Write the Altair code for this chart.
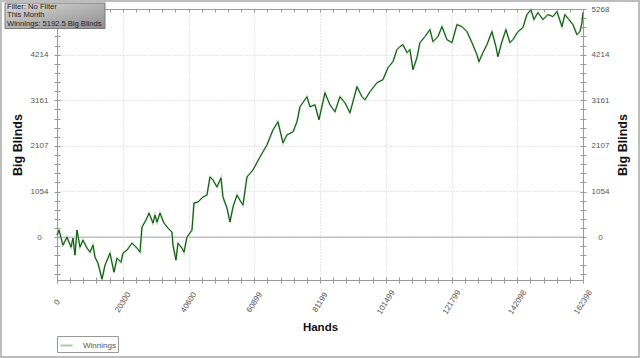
import altair as alt
import pandas as pd

# ---- data ----
hands = [0, 617, 1852, 3087, 4322, 4939, 5557, 6174, 7100, 8026,
         9261, 10187, 11113, 11731, 12657, 13892, 14818, 16361, 17596, 18522,
         19757, 20374, 21609, 23153, 24696, 25622, 26240, 27474, 28400, 29635,
         30252, 30870, 31796, 33031, 34265, 35500, 35809, 36735, 37352, 38587,
         39205, 40131, 41674, 42292, 43526, 45070, 46305, 47231, 48157, 49392,
         50626, 51244, 52479, 53405, 54331, 55566, 56800, 57418, 58653, 60505,
         62666, 64827, 66679, 68222, 69766, 71001, 72853, 74088, 75014, 77174,
         78100, 79644, 80879, 82731, 84274, 85818, 87361, 88905, 90448, 92609,
         94152, 95078, 96622, 98783, 100635, 102178, 103722, 104957, 105883, 106809,
         108044, 108970, 109896, 111131, 112057, 113600, 115144, 116070, 117613, 118848,
         120391, 121935, 123478, 125022, 126565, 128109, 129652, 130270, 131505, 132739,
         134283, 135518, 136135, 137370, 138605, 139840, 140766, 142309, 143853, 145087,
         146322, 147248, 148483, 150026, 151570, 153113, 154348, 155891, 156817, 158052,
         159287, 160522, 161448, 162089, 162398]
big_blinds = [45, 162, -185, 0, -231, -23, -417, 162, -231, -69,
              -255, -347, -185, -463, -602, -972, -648, -370, -810, -486,
              -579, -370, -301, -139, -255, -347, 231, 394, 556, 324,
              509, 347, 556, 324, 208, 116, -185, -532, -139, -255,
              -347, 0, 162, 787, 810, 926, 972, 1389, 1320, 1158,
              1366, 926, 671, 347, 695, 972, 810, 741, 1389, 1551,
              1852, 2130, 2477, 2662, 2176, 2361, 2431, 2662, 3010, 3241,
              3010, 3056, 2709, 3334, 3056, 2894, 3241, 3102, 2871, 3473,
              3241, 3172, 3357, 3565, 3635, 3912, 4051, 4329, 4399, 4445,
              4260, 4329, 3866, 4144, 4491, 4630, 4792, 4514, 4630, 4862,
              4561, 4491, 4908, 4862, 4746, 4491, 4213, 4051, 4260, 4445,
              4746, 4399, 4167, 4514, 4792, 4491, 4561, 4746, 4839, 5139,
              5255, 5024, 5186, 5024, 5139, 5093, 5209, 4862, 5139, 5024,
              4908, 4676, 4746, 4950, 5192]
series_name = "Winnings"

x_ticks = [0, 20300, 40600, 60899, 81199, 101499, 121799, 142098, 162398]
y_ticks = [0, 1054, 2107, 3161, 4214, 5268]
y_ticks_left = [0, 1054, 2107, 3161, 4214]   # top label is hidden by the info box
x_max = 162398
y_min = -990
y_max = 5268
info_lines = ["Filter: No Filter", "This Month", "Winnings: 5192.5 Big Blinds"]

# minor tick positions (5 subdivisions per major step)
x_step = x_max / 8 / 5
y_step = y_max / 5 / 5
x_minor = [i * x_step for i in range(0, 41)]
y_minor = [i * y_step for i in range(-4, 26) if y_min <= i * y_step <= y_max]

W, H = 526, 271
FONT = "Liberation Sans"
AX = "#9a9a9a"
HALO = "#a6cfa6"
CORE = "#0a520a"

df = pd.DataFrame({"Hands": hands, "BB": big_blinds, "Series": series_name})
one = pd.DataFrame({"a": [0]})
zero_df = pd.DataFrame({"BB": [0]})

xs = alt.Scale(domain=[0, x_max], nice=False, zero=False)
ys = alt.Scale(domain=[y_min, y_max], nice=False, zero=False)

base = alt.Chart(df)

# main line (halo) with the labelled bottom and left axes
halo = base.mark_line(strokeWidth=2.0).encode(
    x=alt.X("Hands:Q", scale=xs, axis=alt.Axis(
        orient="bottom", values=x_ticks, format="d", title="Hands",
        grid=True, gridColor="#cfcfcf", gridDash=[1, 2], ticks=False,
        domainColor=AX, labelAngle=302, labelAlign="center", labelBaseline="middle",
        labelPadding=22, labelFontSize=8, labelFont=FONT, labelColor="#555",
        titleFont=FONT, titleFontSize=11.5, titleFontWeight="bold", titleColor="#111",
        titleX=W / 2, titleY=47, titleBaseline="middle")),
    y=alt.Y("BB:Q", scale=ys, axis=alt.Axis(
        orient="left", values=y_ticks_left, format="d", title="Big Blinds",
        grid=True, gridColor="#cfcfcf", gridDash=[1, 2], ticks=False,
        domainColor=AX, labelAlign="center", labelBaseline="middle",
        labelPadding=18, labelFontSize=8, labelFont=FONT, labelColor="#555",
        titleFont=FONT, titleFontSize=12.5, titleFontWeight="bold", titleColor="#111",
        titleAngle=270, titleX=-40, titleY=H / 2, titleBaseline="middle")),
    color=alt.Color("Series:N", scale=alt.Scale(range=[HALO]), legend=alt.Legend(
        orient="none", legendX=0, legendY=327, title=None, strokeColor="#999",
        fillColor="white", padding=2, symbolType="stroke", symbolStrokeWidth=2,
        symbolSize=150, labelFontSize=8, labelFont=FONT, labelColor="#555",
        labelOffset=9, cornerRadius=0)),
)

core = base.mark_line(strokeWidth=1, color=CORE).encode(
    x=alt.X("Hands:Q", scale=xs, axis=None),
    y=alt.Y("BB:Q", scale=ys, axis=None),
)

# right labelled axis + top frame line
frame = base.mark_line(opacity=0).encode(
    x=alt.X("Hands:Q", scale=xs, axis=alt.Axis(
        orient="top", values=x_ticks, labels=False, ticks=False, grid=False,
        title=None, domainColor=AX)),
    y=alt.Y("BB:Q", scale=ys, axis=alt.Axis(
        orient="right", values=y_ticks, format="d", title="Big Blinds",
        grid=False, ticks=False, domainColor=AX, labelAlign="center",
        labelBaseline="middle", labelPadding=17, labelFontSize=8, labelFont=FONT,
        labelColor="#555", titleFont=FONT, titleFontSize=12.5, titleFontWeight="bold",
        titleColor="#111", titleAngle=270, titleX=39, titleY=H / 2,
        titleBaseline="middle")),
)

# tick marks crossing bottom / left axes
ticks_bl = base.mark_line(opacity=0).encode(
    x=alt.X("Hands:Q", scale=xs, axis=alt.Axis(
        orient="bottom", values=x_minor, labels=False, domain=False, grid=False,
        title=None, tickSize=6, offset=-3, tickColor=AX)),
    y=alt.Y("BB:Q", scale=ys, axis=alt.Axis(
        orient="left", values=y_minor, labels=False, domain=False, grid=False,
        title=None, tickSize=6, offset=-3, tickColor=AX)),
)

# tick marks on top / right axes
ticks_tr = base.mark_line(opacity=0).encode(
    x=alt.X("Hands:Q", scale=xs, axis=alt.Axis(
        orient="top", values=x_minor, labels=False, domain=False, grid=False,
        title=None, tickSize=3, offset=-3, tickColor=AX)),
    y=alt.Y("BB:Q", scale=ys, axis=alt.Axis(
        orient="right", values=y_minor, labels=False, domain=False, grid=False,
        title=None, tickSize=6, offset=-3, tickColor=AX)),
)

zero_rule = alt.Chart(zero_df).mark_rule(color="#a8a8a8", strokeWidth=1).encode(
    y=alt.Y("BB:Q", scale=ys, axis=None)
)

# info box at top-left
info_box = alt.Chart(one).mark_rect(
    fill=alt.Gradient(
        gradient="linear",
        stops=[alt.GradientStop(color="#dadada", offset=0),
               alt.GradientStop(color="#8e8e8e", offset=1)],
        x1=0, x2=1, y1=0, y2=1),
    stroke="#7a7a7a", strokeWidth=1,
).encode(x=alt.value(-52), x2=alt.value(48), y=alt.value(-6), y2=alt.value(19.5))

info_texts = [
    alt.Chart(one).mark_text(
        align="left", baseline="middle", font=FONT, fontSize=7.6, color="#222",
    ).encode(x=alt.value(-50), y=alt.value(-2.3 + 8.4 * i), text=alt.value(line))
    for i, line in enumerate(info_lines)
]

# outer grey frame of the picture
outer = alt.Chart(one).mark_rect(fillOpacity=0, stroke="#bdbdbd", strokeWidth=2).encode(
    x=alt.value(-56), x2=alt.value(582), y=alt.value(-8), y2=alt.value(348)
)

chart = alt.layer(
    zero_rule, halo, core, frame, ticks_bl, ticks_tr, info_box, *info_texts, outer
).resolve_axis(x="independent", y="independent").properties(
    width=W, height=H,
    autosize=alt.AutoSizeParams(type="none"),
    padding={"left": 57, "top": 9, "right": 57, "bottom": 78},
    background="white",
).configure_view(strokeWidth=0)

chart.save("out.html", embed_options={"renderer": "svg", "actions": False})
